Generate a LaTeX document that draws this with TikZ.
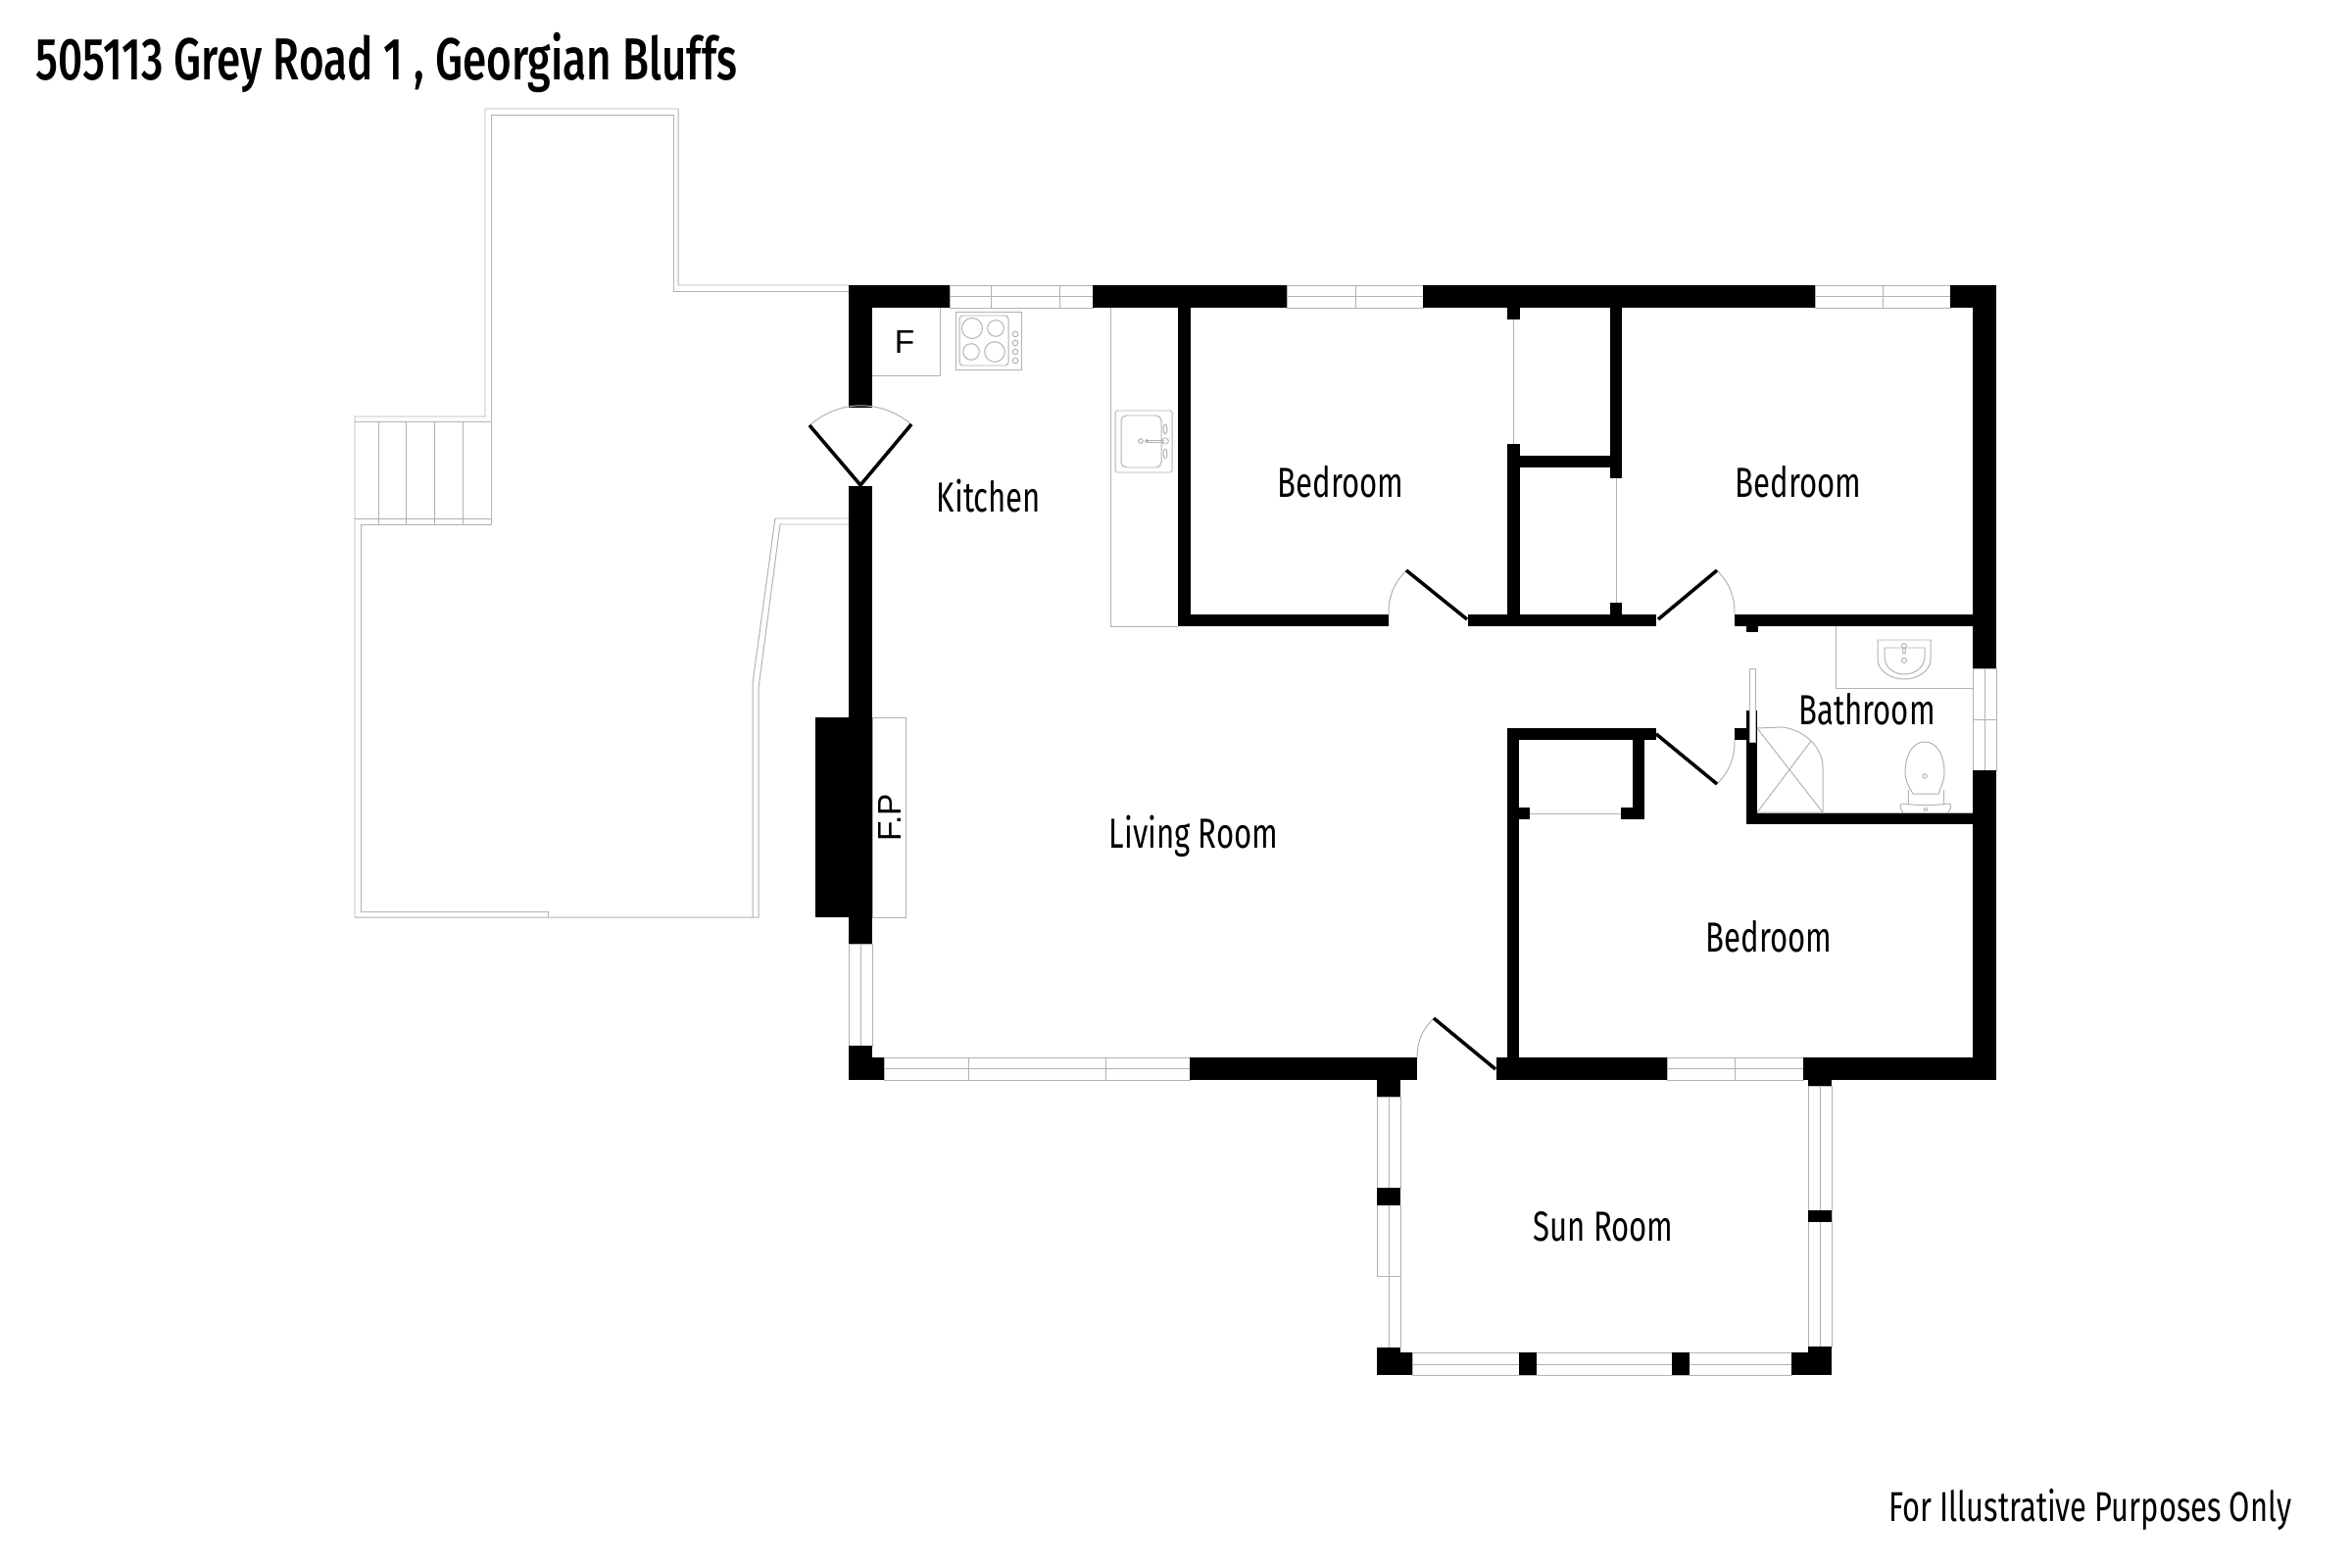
\documentclass[tikz,border=0pt]{standalone}
\usepackage{fontspec}
\setmainfont[FakeStretch=0.725]{Fira Sans}
\newfontfamily\titlefont[FakeStretch=0.7275]{Fira Sans Medium}
\newfontfamily\arialfont{Liberation Sans}
\definecolor{linegray}{gray}{0.7}
\tikzset{
    wall/.style={fill=black},
    thinline/.style={draw=linegray, line width=0.28pt},
    glass/.style={draw=linegray, line width=0.28pt, fill=white},
    leaf/.style={draw=black, line width=1pt},
    room/.style={inner sep=0pt, font=\fontsize{12.2}{14}\selectfont},
    fixture/.style={inner sep=0pt, font=\arialfont\fontsize{9.5}{11}\selectfont},
}
\begin{document}
\begin{tikzpicture}[x=0.01cm,y=-0.01cm]
        \useasboundingbox (0,0) rectangle (2400,1600);
        \fill[white] (0,0) rectangle (2400,1600);
        % deck
        \draw[thinline] (866,291) -- (692,291) -- (692,111) -- (495,111) -- (495,425) -- (362,425) -- (362,936) -- (774,936) -- (774,702) -- (796,535) -- (866,535);
        \draw[thinline] (866,297) -- (687,297) -- (687,117) -- (501,117) -- (501,535) -- (368,535) -- (368,930) -- (559,930) -- (559,936);
        \draw[thinline] (768,936) -- (768,697) -- (791,529) -- (866,529);
        \draw[thinline] (362,430) -- (501,430);
        \draw[thinline] (362,529) -- (501,529);
        \foreach \stairx in {386,414,443,472}
            \draw[thinline] (\stairx,430) -- (\stairx,535);
        % windows, main walls
        \draw[glass] (969,291) rectangle (1115,314);
        \draw[thinline] (969,302) -- (1115,302) (1011,291) -- (1011,314) (1081,291) -- (1081,314);
        \draw[glass] (1313,291) rectangle (1452,314);
        \draw[thinline] (1313,302) -- (1452,302) (1383,291) -- (1383,314);
        \draw[glass] (1852,291) rectangle (1990,314);
        \draw[thinline] (1852,302) -- (1990,302) (1921,291) -- (1921,314);
        \draw[glass] (2013,682) rectangle (2037,786);
        \draw[thinline] (2025,682) -- (2025,786) (2013,734) -- (2037,734);
        \draw[glass] (866,963) rectangle (890,1067);
        \draw[thinline] (878,963) -- (878,1067);
        \draw[glass] (902,1079) rectangle (1214,1102);
        \draw[thinline] (902,1090) -- (1214,1090) (988,1079) -- (988,1102) (1128,1079) -- (1128,1102);
        \draw[glass] (1701,1079) rectangle (1840,1102);
        \draw[thinline] (1701,1090) -- (1840,1090) (1770,1079) -- (1770,1102);
        % sun room windows
        \draw[glass] (1405,1119) rectangle (1429,1212);
        \draw[thinline] (1417,1119) -- (1417,1212);
        \draw[thinline] (1405,1230) -- (1405,1302) -- (1429,1302);
        \draw[thinline] (1417,1230) -- (1417,1375);
        \draw[thinline] (1429,1230) -- (1429,1375);
        \draw[glass] (1845,1108) rectangle (1869,1374);
        \draw[thinline] (1857,1108) -- (1857,1374);
        \draw[glass] (1441,1380) rectangle (1828,1403);
        \draw[thinline] (1441,1392) -- (1828,1392);
        % outer walls
        \fill[wall] (866,291) rectangle (969,314);
        \fill[wall] (866,314) rectangle (890,416);
        \fill[wall] (866,496) rectangle (890,963);
        \fill[wall] (832,732) rectangle (890,936);
        \draw[thinline] (890,732) rectangle (924,936);
        \fill[wall] (866,1067) rectangle (890,1079);
        \fill[wall] (866,1079) rectangle (902,1102);
        \fill[wall] (1115,291) rectangle (1313,314);
        \fill[wall] (1452,291) rectangle (1852,314);
        \fill[wall] (1990,291) rectangle (2037,314);
        \fill[wall] (2013,314) rectangle (2037,682);
        \fill[wall] (2013,786) rectangle (2037,1079);
        \fill[wall] (1214,1079) rectangle (1446,1102);
        \fill[wall] (1527,1079) rectangle (1701,1102);
        \fill[wall] (1840,1079) rectangle (2037,1102);
        % inner walls
        \fill[wall] (1202,314) rectangle (1215,627);
        \fill[wall] (1202,627) rectangle (1417,639);
        \fill[wall] (1498,627) rectangle (1690,639);
        \fill[wall] (1770,627) rectangle (2013,639);
        \fill[wall] (1782,639) rectangle (1794,645);
        \fill[wall] (1538,314) rectangle (1551,326);
        \fill[wall] (1538,453) rectangle (1551,627);
        \fill[wall] (1538,465) rectangle (1655,477);
        \fill[wall] (1643,314) rectangle (1655,488);
        \fill[wall] (1643,615) rectangle (1655,627);
        \draw[thinline] (1544.5,326) -- (1544.5,453);
        \draw[thinline] (1649,488) -- (1649,615);
        % bedroom closet
        \fill[wall] (1538,743) rectangle (1690,755);
        \fill[wall] (1538,755) rectangle (1550,1079);
        \fill[wall] (1666,755) rectangle (1678,836);
        \fill[wall] (1538,824) rectangle (1561,836);
        \fill[wall] (1654,824) rectangle (1678,836);
        \draw[thinline] (1561,830) -- (1654,830);
        % bathroom walls
        \fill[wall] (1770,743) rectangle (1782,755);
        \fill[wall] (1782,725) rectangle (1793,841);
        \fill[wall] (1782,829) rectangle (2013,841);
        \draw[glass] (1785,682) rectangle (1791,757);
        % sun room piers
        \fill[wall] (1405,1102) rectangle (1429,1119);
        \fill[wall] (1405,1212) rectangle (1429,1230);
        \fill[wall] (1405,1375) rectangle (1429,1381);
        \fill[wall] (1405,1380) rectangle (1441,1403);
        \fill[wall] (1550,1380) rectangle (1568,1403);
        \fill[wall] (1706,1380) rectangle (1724,1403);
        \fill[wall] (1828,1380) rectangle (1869,1403);
        \fill[wall] (1845,1374) rectangle (1869,1380);
        \fill[wall] (1845,1102) rectangle (1869,1108);
        \fill[wall] (1845,1235) rectangle (1869,1247);
        % doors
        \coordinate (kitchenhinge) at (878,495);
        \coordinate (kitchenleft) at (826,434);
        \coordinate (kitchenright) at (930,433);
        \draw[thinline] (kitchenleft) to[bend left=40] (kitchenright);
        \draw[leaf] (kitchenleft) -- (kitchenhinge) -- (kitchenright);
        \coordinate (bedonehinge) at (1497,632);
        \coordinate (bedoneleaf) at (1435,582);
        \draw[thinline] (1417,627) to[bend left=22] (bedoneleaf);
        \draw[leaf] (bedonehinge) -- (bedoneleaf);
        \coordinate (bedtwohinge) at (1692,632);
        \coordinate (bedtwoleaf) at (1752,582);
        \draw[thinline] (bedtwoleaf) to[bend left=22] (1770,627);
        \draw[leaf] (bedtwohinge) -- (bedtwoleaf);
        \coordinate (bedthreehinge) at (1690,749);
        \coordinate (bedthreeleaf) at (1752,800);
        \draw[thinline] (1770,755) to[bend left=22] (bedthreeleaf);
        \draw[leaf] (bedthreehinge) -- (bedthreeleaf);
        \coordinate (sunhinge) at (1526,1091);
        \coordinate (sunleaf) at (1463,1039);
        \draw[thinline] (1446,1079) to[bend left=22] (sunleaf);
        \draw[leaf] (sunhinge) -- (sunleaf);
        % kitchen fixtures
        \draw[thinline] (890,383) -- (959,383) -- (959,314);
        \draw[thinline] (1133,314) -- (1133,639) -- (1202,639);
        \draw[thinline] (975,318) rectangle (1042,377);
        \draw[thinline, rounded corners=1pt] (979,322) rectangle (1029,373);
        \draw[thinline] (992,335) circle (10.5);
        \draw[thinline] (1016,335) circle (8.3);
        \draw[thinline] (991,359) circle (8.3);
        \draw[thinline] (1015,359) circle (10.3);
        \foreach \knoby in {341,350,359,368}
            \draw[thinline] (1036,\knoby) circle (2.8);
        \draw[thinline, rounded corners=0.5pt] (1138,419) rectangle (1196,482);
        \draw[thinline, rounded corners=1.5pt] (1144,424) rectangle (1185,477);
        \draw[thinline] (1164,450) circle (2.3);
        \draw[thinline] (1170,450) circle (1.4);
        \draw[thinline] (1170,449) -- (1188,449) (1170,451) -- (1188,451);
        \draw[thinline, rounded corners=0.5pt] (1186,447) rectangle (1192,453);
        \draw[thinline] (1189,438) ellipse (2 and 5);
        \draw[thinline] (1189,463) ellipse (2 and 5);
        % bathroom fixtures
        \draw[thinline] (1873,639) -- (1873,702) -- (2013,702);
        \draw[thinline] (1916,653) -- (1970,653) -- (1970,673) .. controls (1970,685) and (1956,693) .. (1943,693) .. controls (1930,693) and (1916,685) .. (1916,673) -- cycle;
        \draw[thinline] (1923,661) -- (1964,661) -- (1964,670) .. controls (1964,680) and (1955,688) .. (1943,688) .. controls (1931,688) and (1923,680) .. (1923,670) -- cycle;
        \draw[thinline] (1943,659) circle (2.5);
        \draw[thinline] (1943,674) circle (2.5);
        \draw[thinline] (1943,664) ellipse (1.5 and 3);
        \draw[thinline] (1793,743) -- (1818,742) .. controls (1840,744) and (1860,762) .. (1860,783) -- (1860,829) -- (1793,829);
        \draw[thinline] (1793,743) -- (1860,829);
        \draw[thinline] (1793,829) -- (1848,756);
        \draw[thinline] (1952,810) .. controls (1946,800) and (1944,795) .. (1944,788) .. controls (1944,770) and (1952,757) .. (1964,757) .. controls (1976,757) and (1984,770) .. (1984,788) .. controls (1984,795) and (1982,800) .. (1978,810) -- cycle;
        \draw[thinline] (1947,806) -- (1947,820) (1983,806) -- (1983,820);
        \draw[thinline] (1942,829) .. controls (1938,825) and (1938,820) .. (1942,820) .. controls (1955,822) and (1975,822) .. (1988,820) .. controls (1992,820) and (1991,825) .. (1988,829);
        \draw[thinline] (1964,792) circle (2.2);
        \draw[thinline] (1965,826) ellipse (2 and 1.3);
        \draw[thinline] (1793,829) -- (2013,829);
        % labels
        \node[room, anchor=base west, font=\titlefont\fontsize{17.2}{22}\selectfont] (title) at (36,82) {505113 Grey Road 1 , Georgian Bluffs};
        \node[room] (kitchen) at (1009,506) {Kitchen};
        \node[room] (bedroomone) at (1368,492) {Bedroom};
        \node[room] (bedroomtwo) at (1835,492) {Bedroom};
        \node[room] (bedroomthree) at (1805,956) {Bedroom};
        \node[room] (bathroom) at (1905,724) {Bathroom};
        \node[room] (livingroom) at (1218,853) {Living Room};
        \node[room] (sunroom) at (1636,1252) {Sun Room};
        \node[room, anchor=east, font=\fontsize{12.1}{14}\selectfont] (notice) at (2339,1540) {For Illustrative Purposes Only};
        \node[fixture] (fridge) at (923,349) {F};
        \node[fixture, rotate=90] (fireplace) at (908,834) {F.P};
\end{tikzpicture}
\end{document}
